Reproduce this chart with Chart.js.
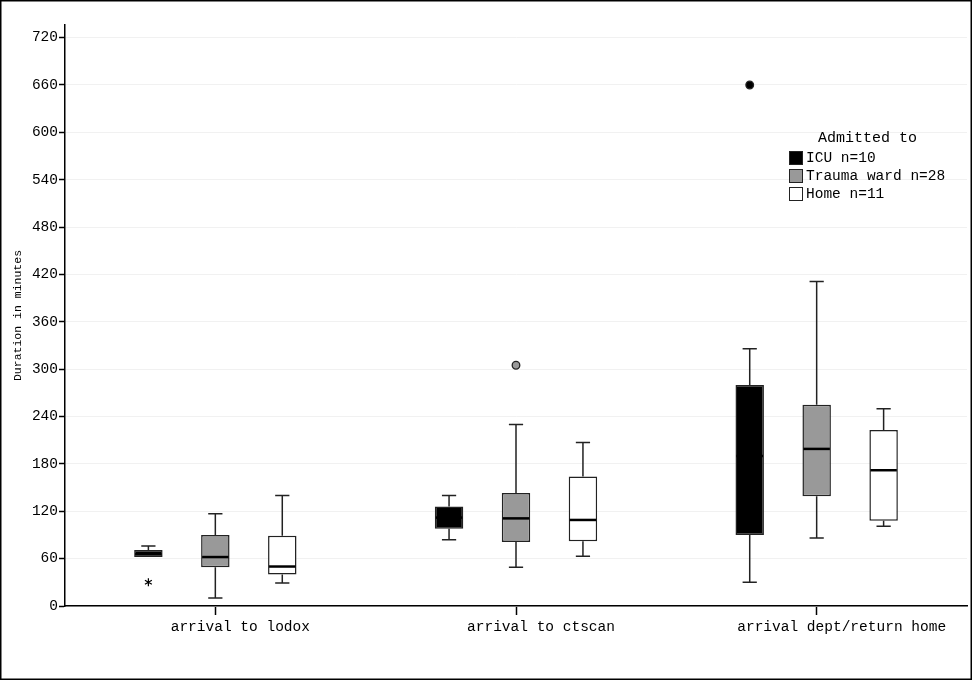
<!DOCTYPE html>
<html>
<head>
<meta charset="utf-8">
<script src="https://cdn.jsdelivr.net/npm/chart.js@4.4.1/dist/chart.umd.min.js"></script>
<style>
  html, body { margin: 0; padding: 0; background: #fff; }
  #wrap { position: relative; width: 973px; height: 681px; }
  #legend { position: absolute; left: 789px; top: 129px; font-family: "Liberation Mono", "Courier New", monospace; color: #000; }
  #legend .ttl { font-size: 15px; margin-left: 29px; line-height: 20px; }
  #legend .row { font-size: 14.5px; line-height: 18px; height: 18px; display: flex; align-items: center; }
  #legend .sw { width: 12px; height: 12px; border: 1.5px solid #222; margin-right: 3px; }
</style>
</head>
<body>
<div id="wrap">
  <canvas id="boxChart" width="973" height="681"></canvas>
  <div id="legend"></div>
</div>
<script>
// categories on the x axis
var categories = ['arrival to lodox', 'arrival to ctscan', 'arrival dept/return home'];
// groups (legend)
var groups = ['ICU n=10', 'Trauma ward n=28', 'Home n=11'];
var groupColours = ['#000000', '#999999', '#ffffff'];

// box plot values (minutes)
var icuLow   = [62, 84, 30];
var icuQ1    = [62, 98, 90];
var icuMed   = [66, 112, 190];
var icuQ3    = [71, 126, 280];
var icuHigh  = [76, 140, 326];

var traumaLow  = [10, 49, 86];
var traumaQ1   = [49, 81, 139];
var traumaMed  = [62, 111, 199];
var traumaQ3   = [90, 143, 255];
var traumaHigh = [117, 230, 411];

var homeLow  = [29, 63, 101];
var homeQ1   = [40, 82, 108];
var homeMed  = [50, 109, 172];
var homeQ3   = [89, 164, 223];
var homeHigh = [140, 207, 250];

// outliers: group index, category index, value, marker
var outlierGroup    = [0, 1, 0];
var outlierCategory = [0, 1, 2];
var outlierValue    = [30, 305, 660];
var outlierShape    = ['star', 'circle', 'circle'];

// y ticks
var yMin = 0, yMax = 736, yStep = 60;

var stats = [
    {low: icuLow, q1: icuQ1, med: icuMed, q3: icuQ3, high: icuHigh},
    {low: traumaLow, q1: traumaQ1, med: traumaMed, q3: traumaQ3, high: traumaHigh},
    {low: homeLow, q1: homeQ1, med: homeMed, q3: homeQ3, high: homeHigh}
];

var monoFont = '"Liberation Mono", "Courier New", monospace';
var lineColour = '#222222';

// build the floating bar datasets (Q1 - Q3)
var datasets = [];
for (var g = 0; g < groups.length; g++) {
    var boxData = [];
    for (var c = 0; c < categories.length; c++) {
        boxData.push([stats[g].q1[c], stats[g].q3[c]]);
    }
    datasets.push({
        label: groups[g],
        data: boxData,
        backgroundColor: groupColours[g],
        borderColor: lineColour,
        borderWidth: 1.5,
        borderSkipped: false,
        categoryPercentage: 0.668,
        barPercentage: 0.425
    });
}

// whiskers, medians and outliers, drawn through the chart scales
var boxExtras = {
    id: 'boxExtras',
    afterDatasetsDraw: function(chart) {
        var ctx = chart.ctx;
        var y = chart.scales.y;
        ctx.save();
        for (var g = 0; g < stats.length; g++) {
            var meta = chart.getDatasetMeta(g);
            for (var c = 0; c < categories.length; c++) {
                var bar = meta.data[c];
                var x = bar.x, w = bar.width;
                var s = stats[g];
                ctx.strokeStyle = lineColour;
                ctx.lineWidth = 1.5;
                ctx.beginPath();
                // upper whisker
                if (s.high[c] > s.q3[c]) {
                    ctx.moveTo(x, y.getPixelForValue(s.q3[c]));
                    ctx.lineTo(x, y.getPixelForValue(s.high[c]));
                    ctx.moveTo(x - w / 4, y.getPixelForValue(s.high[c]));
                    ctx.lineTo(x + w / 4, y.getPixelForValue(s.high[c]));
                }
                // lower whisker
                if (s.low[c] < s.q1[c]) {
                    ctx.moveTo(x, y.getPixelForValue(s.q1[c]));
                    ctx.lineTo(x, y.getPixelForValue(s.low[c]));
                    ctx.moveTo(x - w / 4, y.getPixelForValue(s.low[c]));
                    ctx.lineTo(x + w / 4, y.getPixelForValue(s.low[c]));
                }
                ctx.stroke();
                // median
                ctx.strokeStyle = '#000';
                ctx.lineWidth = 2.5;
                ctx.beginPath();
                ctx.moveTo(x - w / 2 + 1, y.getPixelForValue(s.med[c]));
                ctx.lineTo(x + w / 2 - 1, y.getPixelForValue(s.med[c]));
                ctx.stroke();
            }
        }
        // outliers
        for (var k = 0; k < outlierValue.length; k++) {
            var el = chart.getDatasetMeta(outlierGroup[k]).data[outlierCategory[k]];
            var ox = el.x, oy = y.getPixelForValue(outlierValue[k]);
            if (outlierShape[k] === 'star') {
                ctx.strokeStyle = '#000';
                ctx.lineWidth = 1.2;
                ctx.beginPath();
                for (var a = 0; a < 3; a++) {
                    var ang = Math.PI / 2 + a * Math.PI / 3;
                    ctx.moveTo(ox - 4 * Math.cos(ang), oy - 4 * Math.sin(ang));
                    ctx.lineTo(ox + 4 * Math.cos(ang), oy + 4 * Math.sin(ang));
                }
                ctx.stroke();
            } else {
                ctx.beginPath();
                ctx.arc(ox, oy, 3.8, 0, Math.PI * 2);
                ctx.fillStyle = outlierGroup[k] === 0 ? '#000' : groupColours[outlierGroup[k]];
                ctx.fill();
                ctx.strokeStyle = '#222';
                ctx.lineWidth = 1.3;
                ctx.stroke();
            }
        }
        ctx.restore();
    },
    afterDraw: function(chart) {
        // outer frame
        var ctx = chart.ctx;
        ctx.save();
        ctx.strokeStyle = '#000';
        ctx.lineWidth = 1.5;
        ctx.strokeRect(0.75, 0.75, chart.width - 2.5, chart.height - 2.5);
        ctx.restore();
    }
};

var chart = new Chart(document.getElementById('boxChart'), {
    type: 'bar',
    data: { labels: categories, datasets: datasets },
    options: {
        responsive: false,
        animation: false,
        layout: { padding: { top: 25, right: 6, left: 0, bottom: 0 } },
        plugins: { legend: { display: false }, tooltip: { enabled: false } },
        scales: {
            x: {
                offset: true,
                grid: { display: true, drawOnChartArea: false, offset: false, tickLength: 9, tickColor: '#000', tickWidth: 1.5 },
                border: { color: '#000', width: 1.5 },
                ticks: { color: '#000', font: { family: monoFont, size: 14.5 }, labelOffset: 25, padding: 3, maxRotation: 0 },
                afterFit: function(axis) { axis.height = 75; }
            },
            y: {
                min: yMin,
                max: yMax,
                grid: { color: '#f1f1f1', tickColor: '#000', tickLength: 6, tickWidth: 1.5 },
                border: { color: '#000', width: 1.5 },
                ticks: { stepSize: yStep, includeBounds: false, color: '#000', padding: 1, font: { family: monoFont, size: 14.5 } },
                title: { display: true, text: 'Duration in minutes', color: '#000', font: { family: monoFont, size: 11.5 }, padding: { top: 11, bottom: 0 } },
                afterFit: function(axis) { axis.width = 65; }
            }
        }
    },
    plugins: [boxExtras]
});

// legend as text
var legendHTML = "<div class='ttl'>Admitted to</div>";
for (var i = 0; i < groups.length; i++) {
    legendHTML += "<div class='row'><span class='sw' style='background:" + groupColours[i] + "'></span>" + groups[i] + "</div>";
}
document.getElementById('legend').innerHTML = legendHTML;
</script>
</body>
</html>
